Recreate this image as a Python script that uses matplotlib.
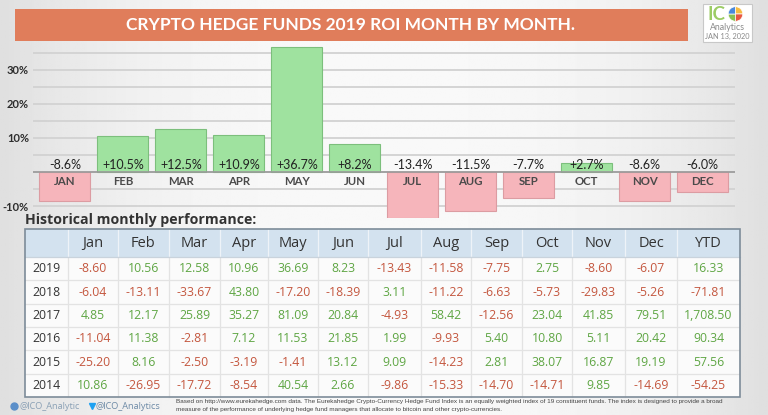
import matplotlib
matplotlib.use("Agg")
import matplotlib.pyplot as plt
import numpy as np
from matplotlib.patches import Rectangle, Wedge

# ---------------- data ----------------
months = ["JAN", "FEB", "MAR", "APR", "MAY", "JUN", "JUL", "AUG", "SEP", "OCT", "NOV", "DEC"]
roi_2019 = [-8.6, 10.5, 12.5, 10.9, 36.7, 8.2, -13.4, -11.5, -7.7, 2.7, -8.6, -6.0]

table_cols = ["Jan", "Feb", "Mar", "Apr", "May", "Jun", "Jul", "Aug", "Sep", "Oct", "Nov", "Dec", "YTD"]
years = ["2019", "2018", "2017", "2016", "2015", "2014"]
perf_2019 = [-8.60, 10.56, 12.58, 10.96, 36.69, 8.23, -13.43, -11.58, -7.75, 2.75, -8.60, -6.07, 16.33]
perf_2018 = [-6.04, -13.11, -33.67, 43.80, -17.20, -18.39, 3.11, -11.22, -6.63, -5.73, -29.83, -5.26, -71.81]
perf_2017 = [4.85, 12.17, 25.89, 35.27, 81.09, 20.84, -4.93, 58.42, -12.56, 23.04, 41.85, 79.51, 1708.50]
perf_2016 = [-11.04, 11.38, -2.81, 7.12, 11.53, 21.85, 1.99, -9.93, 5.40, 10.80, 5.11, 20.42, 90.34]
perf_2015 = [-25.20, 8.16, -2.50, -3.19, -1.41, 13.12, 9.09, -14.23, 2.81, 38.07, 16.87, 19.19, 57.56]
perf_2014 = [10.86, -26.95, -17.72, -8.54, 40.54, 2.66, -9.86, -15.33, -14.70, -14.71, 9.85, -14.69, -54.25]
perf_rows = [perf_2019, perf_2018, perf_2017, perf_2016, perf_2015, perf_2014]

ytick_vals = [-10, -5, 0, 5, 10, 15, 20, 25, 30, 35]
ytick_shown = [-10, 10, 20, 30]

title = "CRYPTO HEDGE FUNDS 2019 ROI MONTH BY MONTH."
subtitle = "Historical monthly performance:"
source_1 = ("Based on http://www.eurekahedge.com data. The Eurekahedge Crypto-Currency Hedge Fund Index is an "
            "equally weighted index of 19 constituent funds. The index is designed to provide a broad")
source_2 = ("measure of the performance of underlying hedge fund managers that allocate to bitcoin and other "
            "crypto-currencies.")

# ---------------- styles ----------------
W, H = 768, 415
GREEN_BAR = "#9fe29f"
GREEN_EDGE = "#7cbf7c"
RED_BAR = "#f6b5bb"
RED_EDGE = "#dc9ca2"
GREEN_TXT = "#5fa644"
RED_TXT = "#c4573f"
DARK = "#2d2d2d"

fig = plt.figure(figsize=(W / 100, H / 100), dpi=100)

# background axes in pixel coordinates
bg = fig.add_axes([0, 0, 1, 1])
bg.set_xlim(0, W)
bg.set_ylim(H, 0)
bg.axis("off")
xs = np.linspace(-1, 1, 400)
grad = 0.975 - 0.10 * np.abs(xs) ** 2.5
bg.imshow(np.tile(grad, (10, 1)), extent=[0, W, H, 0], aspect="auto", cmap="gray",
          vmin=0, vmax=1, zorder=0)

# title banner
bg.add_patch(Rectangle((15, 9), 673, 32, facecolor="#e07d5b", edgecolor="none", zorder=2))
bg.text(350, 25.5, title, color="white", fontsize=12.5, fontweight="bold",
        family="Lato", ha="center", va="center", zorder=3)

# logo
bg.add_patch(Rectangle((703, 4), 49, 38, facecolor="white", edgecolor="#c8c8c8", lw=0.8, zorder=2))
bg.text(716.5, 14.5, "IC", color="#9ccc65", fontsize=13.5, fontweight="bold", family="Lato",
        ha="center", va="center", zorder=3)
pie_cols = ["#8cc152", "#4a89dc", "#f6bb42", "#e9573f"]
start = 90
for k, c in enumerate(pie_cols):
    bg.add_patch(Wedge((735.5, 14), 7.3, start + 90 * k, start + 90 * (k + 1), facecolor=c,
                       edgecolor="white", lw=0.5, zorder=3))
bg.text(727.5, 27, "Analytics", color="#8a8a8a", fontsize=6.3, family="Lato",
        ha="center", va="center", zorder=3)
bg.text(727.5, 36, "JAN 13, 2020", color="#8a8a8a", fontsize=5.3, family="Lato",
        ha="center", va="center", zorder=3)

# ---------------- bar chart ----------------
ax_left, ax_right, ax_top, ax_bottom = 33, 735, 44, 218
ax = fig.add_axes([ax_left / W, 1 - ax_bottom / H, (ax_right - ax_left) / W, (ax_bottom - ax_top) / H])
ax.patch.set_alpha(0)
x = np.arange(len(months))
colors = [GREEN_BAR if v >= 0 else RED_BAR for v in roi_2019]
edges = [GREEN_EDGE if v >= 0 else RED_EDGE for v in roi_2019]
ax.bar(x, roi_2019, width=0.88, color=colors, edgecolor=edges, linewidth=0.8, zorder=3)
ax.set_xlim(-0.552, 11.56)
ax.set_ylim(-13.5, 37.6)
ax.set_yticks(ytick_vals)
ax.set_yticklabels([f"{v}%" if v in ytick_shown else "" for v in ytick_vals],
                   fontsize=8, fontweight="bold", color=DARK, family="Lato")
ax.tick_params(axis="y", length=0, pad=3)
ax.set_xticks([])
ax.grid(axis="y", color="#d2d2d2", lw=1.3, zorder=1)
ax.axhline(0, color="#9a9a9a", lw=1.2, zorder=4)
for s in ax.spines.values():
    s.set_visible(False)
for i, (m, v) in enumerate(zip(months, roi_2019)):
    lab = f"+{v:.1f}%" if v > 0 else f"{v:.1f}%"
    ax.annotate(lab, (i, 0), xytext=(0, 5.3), textcoords="offset points", ha="center",
                va="center", fontsize=9, color="#222222", family="Lato", zorder=5)
    ax.annotate(m, (i, 0), xytext=(0, -6.5), textcoords="offset points", ha="center",
                va="center", fontsize=8.2, fontweight="bold", color="#4a4a4a", family="Lato", zorder=5)

# ---------------- table ----------------
bg.text(25, 220, subtitle, fontsize=10.2, fontweight="bold", color="#333333", family="Open Sans",
        ha="left", va="center", zorder=3)
col_edges = [25, 68, 118, 169, 220, 268, 318, 368, 421, 471, 522, 572, 625, 677, 740]
t_top, h_bottom, t_bottom = 229, 257, 397
row_h = (t_bottom - h_bottom) / len(years)

bg.add_patch(Rectangle((col_edges[0], t_top), col_edges[-1] - col_edges[0], h_bottom - t_top,
                       facecolor="#d3e2ef", edgecolor="none", zorder=2))
bg.add_patch(Rectangle((col_edges[0], h_bottom), col_edges[-1] - col_edges[0], t_bottom - h_bottom,
                       facecolor="#fbfbfb", edgecolor="none", zorder=2))
for xe in col_edges[1:-1]:
    bg.plot([xe, xe], [t_top, h_bottom], color="#eef3f8", lw=0.9, zorder=3)
    bg.plot([xe, xe], [h_bottom, t_bottom], color="#e3e3e3", lw=0.9, zorder=3)
for r in range(1, len(years)):
    yy = h_bottom + r * row_h
    bg.plot([col_edges[0], col_edges[-1]], [yy, yy], color="#e3e3e3", lw=0.9, zorder=3)
bg.plot([col_edges[0], col_edges[-1]], [h_bottom, h_bottom], color="#c9d3dc", lw=0.9, zorder=3)
bg.add_patch(Rectangle((col_edges[0], t_top), col_edges[-1] - col_edges[0], t_bottom - t_top,
                       facecolor="none", edgecolor="#7d8c99", lw=1.2, zorder=4))

hy = (t_top + h_bottom) / 2
for j, c in enumerate(table_cols):
    cx = (col_edges[j + 1] + col_edges[j + 2]) / 2
    bg.text(cx, hy + 0.5, c, fontsize=10.5, color="#333333", family="Open Sans",
            ha="center", va="center", zorder=5)
for r, (yr, vals) in enumerate(zip(years, perf_rows)):
    cy = h_bottom + (r + 0.5) * row_h
    bg.text((col_edges[0] + col_edges[1]) / 2, cy, yr, fontsize=8.8, color="#333333",
            family="Open Sans", ha="center", va="center", zorder=5)
    for j, v in enumerate(vals):
        cx = (col_edges[j + 1] + col_edges[j + 2]) / 2
        bg.text(cx, cy, f"{v:,.2f}", fontsize=8.8, color=GREEN_TXT if v >= 0 else RED_TXT,
                family="Open Sans", ha="center", va="center", zorder=5)

# ---------------- footer ----------------
bg.plot([14], [406], marker="o", ms=5, color="#5b8fc9", zorder=5)
bg.text(19, 406, "@ICO_Analytic", fontsize=6.6, color="#8aa0b5", family="Open Sans",
        ha="left", va="center", zorder=5)
bg.plot([92], [406], marker="v", ms=5, color="#1da1f2", zorder=5)
bg.text(96, 406, "@ICO_Analytics", fontsize=6.6, color="#6d8aa6", family="Open Sans",
        ha="left", va="center", zorder=5)
bg.text(176, 401, source_1, fontsize=4.6, color="#444444", family="Liberation Sans",
        ha="left", va="center", zorder=5)
bg.text(176, 409.5, source_2, fontsize=4.6, color="#444444", family="Liberation Sans",
        ha="left", va="center", zorder=5)

fig.savefig("out.png", dpi=100)
